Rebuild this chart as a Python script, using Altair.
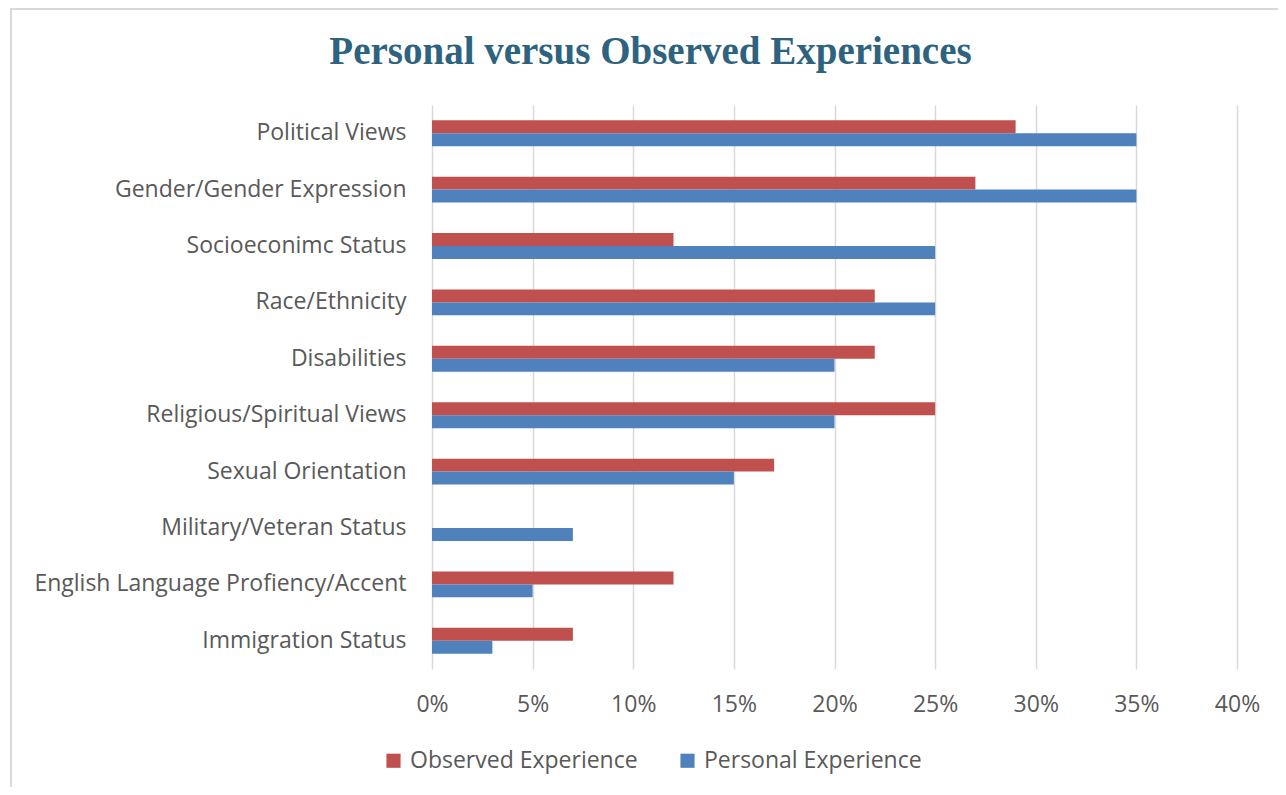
import altair as alt
import pandas as pd

categories = [
    "Political Views",
    "Gender/Gender Expression",
    "Socioeconimc Status",
    "Race/Ethnicity",
    "Disabilities",
    "Religious/Spiritual Views",
    "Sexual Orientation",
    "Military/Veteran Status",
    "English Language Profiency/Accent",
    "Immigration Status",
]
observed = [29, 27, 12, 22, 22, 25, 17, 0, 12, 7]
personal = [35, 35, 25, 25, 20, 20, 15, 7, 5, 3]
series = ["Observed Experience", "Personal Experience"]
x_ticks = [0, 5, 10, 15, 20, 25, 30, 35, 40]

rows = []
for c, o, p in zip(categories, observed, personal):
    rows.append({"category": c, "series": series[0], "value": o / 100})
    rows.append({"category": c, "series": series[1], "value": p / 100})
df = pd.DataFrame(rows)

FONT = "Open Sans"
TXT = "#595959"
FS = 23

bars = (
    alt.Chart(df)
    .mark_bar()
    .encode(
        x=alt.X(
            "value:Q",
            scale=alt.Scale(domain=[0, 0.4]),
            axis=alt.Axis(
                values=[t / 100 for t in x_ticks],
                format=".0%",
                title=None,
                domain=False,
                ticks=False,
                labelFlush=False,
                labelPadding=24,
                labelFontSize=FS,
                labelFont=FONT,
                labelColor=TXT,
                gridColor="#D9D9D9",
                gridWidth=1.5,
            ),
        ),
        y=alt.Y(
            "category:N",
            sort=categories,
            scale=alt.Scale(paddingInner=0.54, paddingOuter=0.27),
            axis=alt.Axis(
                title=None,
                domain=False,
                ticks=False,
                labelPadding=26,
                labelFontSize=FS,
                labelFont=FONT,
                labelColor=TXT,
                labelLimit=500,
            ),
        ),
        yOffset=alt.YOffset("series:N", sort=series),
        color=alt.Color(
            "series:N",
            sort=series,
            scale=alt.Scale(domain=series, range=["#C0504D", "#4F81BD"]),
            legend=alt.Legend(
                title=None,
                orient="none",
                direction="horizontal",
                legendX=-50,
                legendY=644,
                symbolType="square",
                symbolSize=200,
                symbolStrokeWidth=0,
                labelFontSize=FS,
                labelFont=FONT,
                labelColor=TXT,
                labelLimit=400,
                columnPadding=38,
                labelOffset=5,
            ),
        ),
    )
)

frame = (
    alt.Chart(pd.DataFrame({"f": [0]}))
    .mark_rect(fill=None, stroke="#D9D9D9", strokeWidth=2, clip=False)
    .encode(
        x=alt.value(-421),
        x2=alt.value(900),
        y=alt.value(-96),
        y2=alt.value(800),
    )
)

chart = (
    alt.layer(frame, bars)
    .properties(
        width=805,
        height=564,
        autosize=alt.AutoSizeParams(type="none"),
        padding={"left": 424, "top": 97, "right": 41, "bottom": 118},
        title=alt.TitleParams(
            "Personal versus Observed Experiences",
            font="Liberation Serif",
            fontSize=39,
            fontWeight="bold",
            color="#2E6380",
            anchor="middle",
            frame="group",
            dx=-184,
            offset=-64,
        ),
    )
    .configure_view(stroke=None)
)

chart.save("out.html", embed_options={"renderer": "svg", "actions": False})
